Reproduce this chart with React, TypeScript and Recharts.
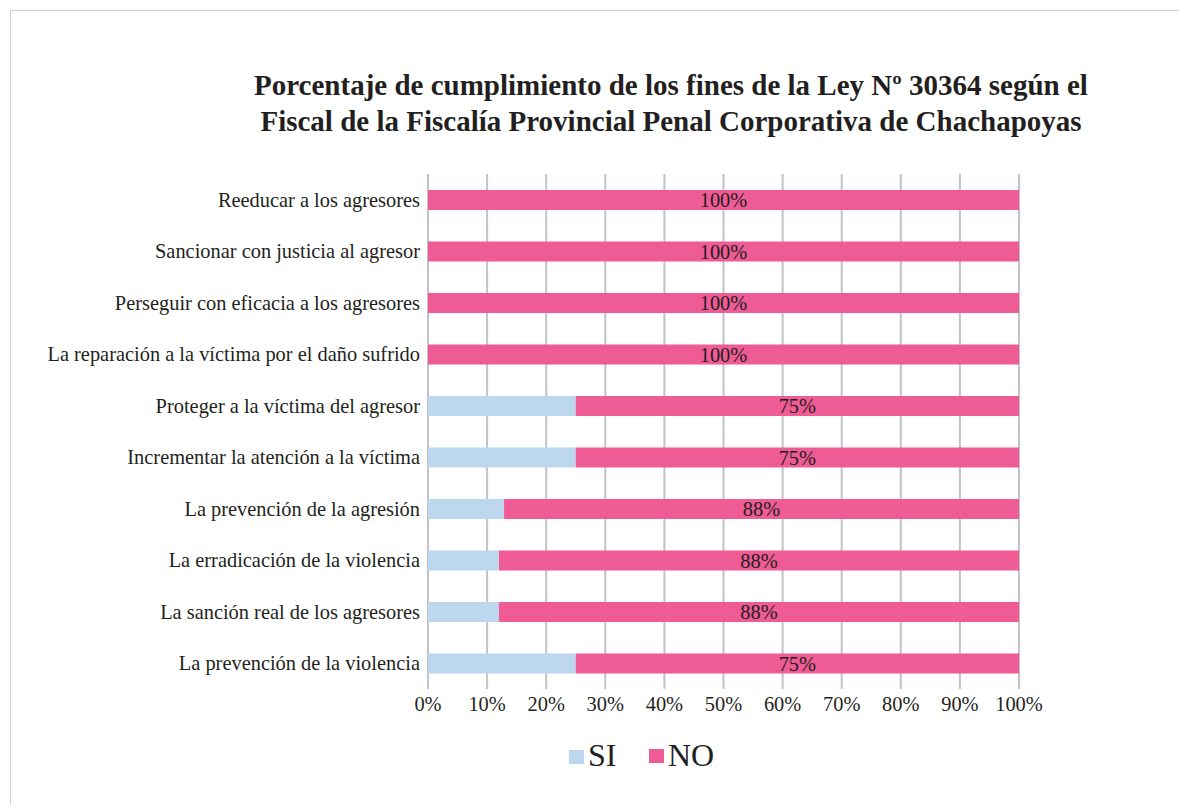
import { Bar, BarChart, CartesianGrid, LabelList, XAxis, YAxis } from "recharts";

const categories = [
  "Reeducar a los agresores",
  "Sancionar con justicia al agresor",
  "Perseguir con eficacia a los agresores",
  "La reparación a la víctima por el daño sufrido",
  "Proteger a la víctima del agresor",
  "Incrementar la atención a la víctima",
  "La prevención de la agresión",
  "La erradicación de la violencia",
  "La sanción real de los agresores",
  "La prevención de la violencia",
];
const siValues = [0, 0, 0, 0, 25, 25, 13, 12, 12, 25];
const noValues = [100, 100, 100, 100, 75, 75, 88, 88, 88, 75];
const xTicks = [0, 0.1, 0.2, 0.3, 0.4, 0.5, 0.6, 0.7, 0.8, 0.9, 1];

const FONT = '"Liberation Serif", "Times New Roman", serif';
const PINK = "#EF5B94";
const BLUE = "#BDD7EE";
const TEXT = "#231f20";

const data = categories.map((name, i) => ({
  name,
  SI: siValues[i],
  NO: noValues[i],
}));

export default function App() {
  return (
    <div
      style={{
        position: "absolute",
        left: 0,
        top: 0,
        width: 1179,
        height: 805,
        overflow: "hidden",
        background: "#fff",
        fontFamily: FONT,
      }}
    >
      <div
        style={{
          position: "absolute",
          left: 10,
          top: 10,
          width: 1200,
          height: 820,
          border: "1.5px solid #cfcfcf",
        }}
      />
      <div
        style={{
          position: "absolute",
          left: 0,
          top: 67,
          width: 1342,
          textAlign: "center",
          fontSize: 29,
          fontWeight: "bold",
          lineHeight: "36px",
          color: TEXT,
          whiteSpace: "nowrap",
        }}
      >
        Porcentaje de cumplimiento de los fines de la Ley Nº 30364 según el
        <br />
        Fiscal de la Fiscalía Provincial Penal Corporativa de Chachapoyas
      </div>
      <div style={{ position: "absolute", left: 0, top: 0 }}>
        <BarChart
          layout="vertical"
          width={1179}
          height={805}
          data={data}
          stackOffset="expand"
          margin={{ top: 174, right: 160, bottom: 0, left: 0 }}
        >
          <CartesianGrid
            horizontal={false}
            stroke="#c2c2c7"
            strokeWidth={2}
          />
          <XAxis
            type="number"
            domain={[0, 1]}
            ticks={xTicks}
            height={116}
            axisLine={false}
            tickLine={false}
            tickFormatter={(v: number) => `${Math.round(v * 100)}%`}
            tick={{ fill: TEXT, fontSize: 20.4, fontFamily: FONT }}
            interval={0}
          />
          <YAxis
            type="category"
            dataKey="name"
            width={428}
            axisLine={false}
            tickLine={false}
            interval={0}
            tick={{ fill: TEXT, fontSize: 20.4, fontFamily: FONT }}
          />
          <Bar
            dataKey="SI"
            stackId="a"
            fill={BLUE}
            barSize={20}
            isAnimationActive={false}
          />
          <Bar
            dataKey="NO"
            stackId="a"
            fill={PINK}
            barSize={20}
            isAnimationActive={false}
          >
            <LabelList
              dataKey="NO"
              position="center"
              formatter={(v: any) => `${v}%`}
              style={{ fill: TEXT, fontSize: 20.4, fontFamily: FONT }}
            />
          </Bar>
        </BarChart>
      </div>
      <div
        style={{
          position: "absolute",
          left: 569,
          top: 750,
          width: 15,
          height: 14,
          background: BLUE,
        }}
      />
      <div
        style={{
          position: "absolute",
          left: 588,
          top: 739,
          fontSize: 32,
          lineHeight: "32px",
          color: TEXT,
        }}
      >
        SI
      </div>
      <div
        style={{
          position: "absolute",
          left: 649,
          top: 749,
          width: 15,
          height: 14,
          background: PINK,
        }}
      />
      <div
        style={{
          position: "absolute",
          left: 668,
          top: 739,
          fontSize: 32,
          lineHeight: "32px",
          color: TEXT,
        }}
      >
        NO
      </div>
    </div>
  );
}
